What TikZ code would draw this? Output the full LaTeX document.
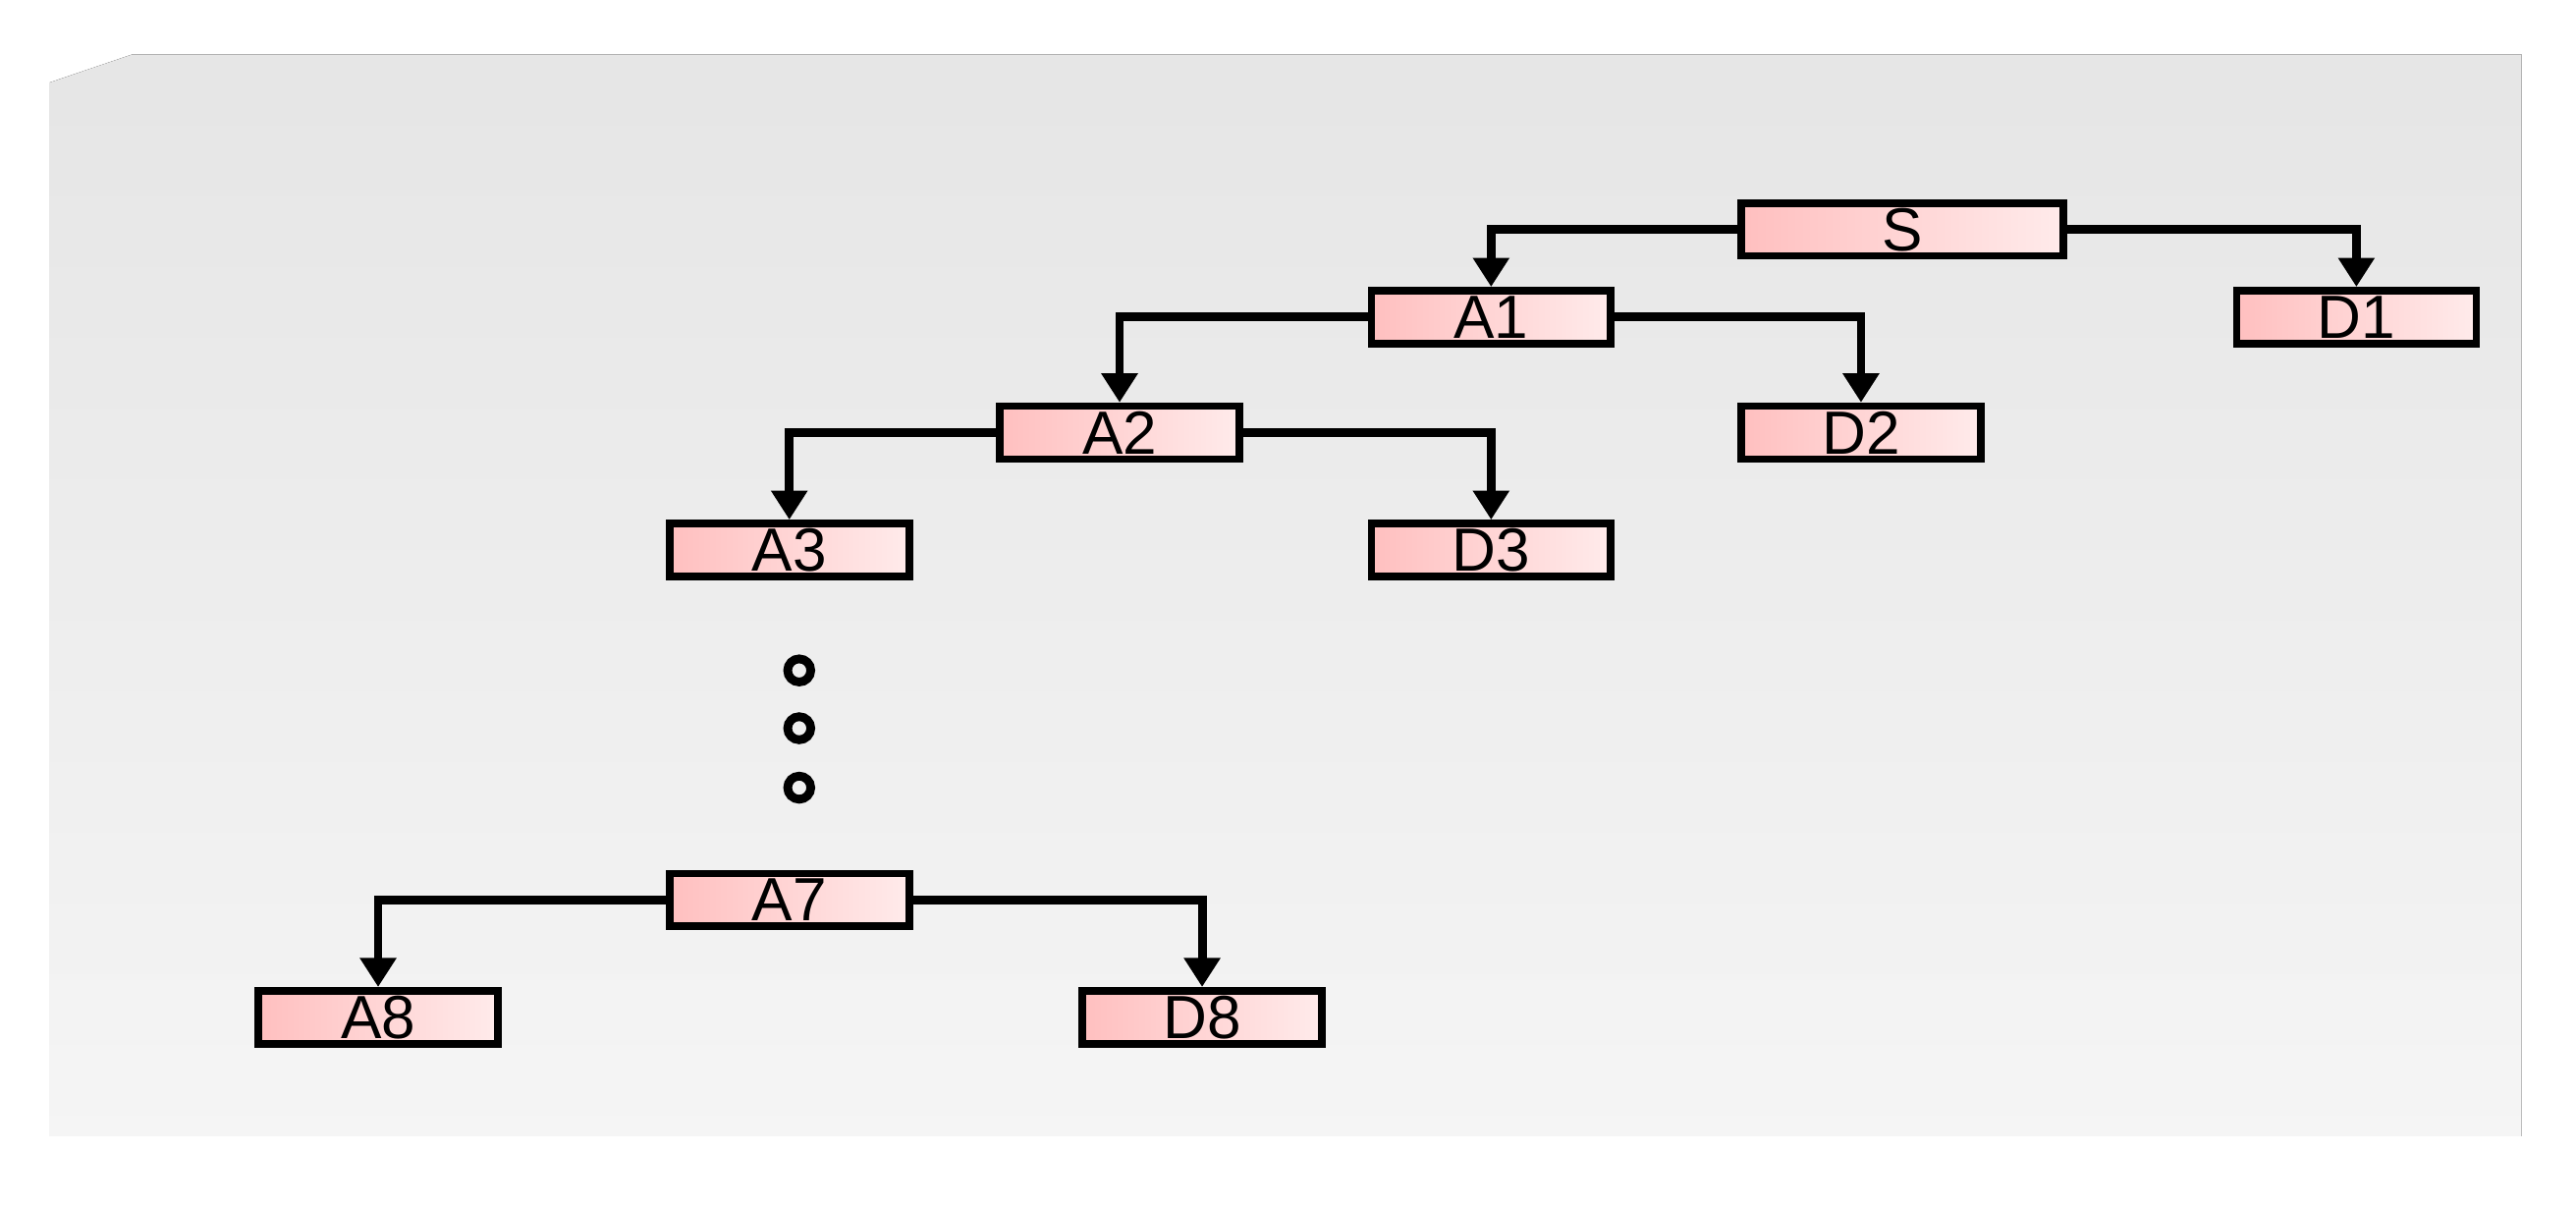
\documentclass[tikz,border=0pt]{standalone}
\usepackage{fontspec}
\setmainfont{Liberation Sans}
\usetikzlibrary{arrows.meta}
\begin{document}
\begin{tikzpicture}[x=0.01cm,y=-0.01cm,
  box/.style={draw=black,line width=1.3pt,left color=red!25,right color=red!8,minimum height=0.32cm,inner sep=0pt,font=\fontsize{10.5}{10.5}\selectfont},
  conn/.style={line width=1.5pt,-{Triangle[length=5pt,width=6pt]}},
  dot/.style={circle,draw=black,line width=1.5pt,minimum size=0.14cm,inner sep=0pt}]
\useasboundingbox (0,0) rectangle (1560,730);
\fill[top color=gray!20,bottom color=gray!8] (30,50) -- (80,33) -- (1527,33) -- (1527,688) -- (30,688) -- cycle;
\node[box,minimum width=1.95cm] (S) at (1152,139) {S};
\node[box,minimum width=1.45cm] (A1) at (903,192) {A1};
\node[box,minimum width=1.45cm] (D1) at (1427,192) {D1};
\node[box,minimum width=1.45cm] (A2) at (678,262) {A2};
\node[box,minimum width=1.45cm] (D2) at (1127,262) {D2};
\node[box,minimum width=1.45cm] (A3) at (478,333) {A3};
\node[box,minimum width=1.45cm] (D3) at (903,333) {D3};
\node[box,minimum width=1.45cm] (A7) at (478,545) {A7};
\node[box,minimum width=1.45cm] (A8) at (229,616) {A8};
\node[box,minimum width=1.45cm] (D8) at (728,616) {D8};
\node[dot] (o1) at (484,406) {};
\node[dot] (o2) at (484,441) {};
\node[dot] (o3) at (484,477) {};
\draw[conn] (S.west) -| (A1.north);
\draw[conn] (S.east) -| (D1.north);
\draw[conn] (A1.west) -| (A2.north);
\draw[conn] (A1.east) -| (D2.north);
\draw[conn] (A2.west) -| (A3.north);
\draw[conn] (A2.east) -| (D3.north);
\draw[conn] (A7.west) -| (A8.north);
\draw[conn] (A7.east) -| (D8.north);
\end{tikzpicture}
\end{document}
